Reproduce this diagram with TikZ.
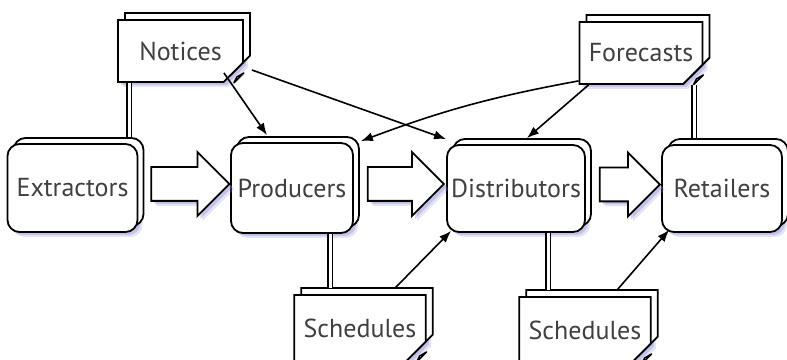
\documentclass[tikz,border=0pt]{standalone}
\usepackage{fontspec}
\setmainfont{PT Sans}
\usetikzlibrary{shapes.misc,shapes.arrows,shadows,calc,arrows.meta}

\tikzstyle{glow} = [drop shadow={shadow xshift=5pt, shadow yshift=-5pt, fill=blue!45!gray!60, opacity=0.25}, drop shadow={shadow xshift=3pt, shadow yshift=-3pt, fill=blue!50!gray!70, opacity=0.3}]
\tikzstyle{party} = [draw=black, line width=1.8pt, fill=white, rectangle, rounded corners=12pt, text=black!75, font=\fontsize{26}{26}\selectfont, glow, copy shadow={shadow xshift=6pt, shadow yshift=6pt}]
\tikzstyle{paper} = [draw=black, line width=1.8pt, fill=white, chamfered rectangle, chamfered rectangle corners=south east, chamfered rectangle sep=10pt, inner sep=0pt, text=black!75, font=\fontsize{26}{26}\selectfont, glow, copy shadow={shadow xshift=7pt, shadow yshift=7pt}]
\tikzstyle{flow} = [draw=black, line width=1.8pt, fill=white, single arrow, single arrow head extend=15pt, inner xsep=0pt, inner ysep=16pt, anchor=tail, glow]
\tikzstyle{link} = [draw=black, double=white, double distance=3pt, line width=1.5pt]
\tikzstyle{feed} = [draw=black, line width=1.6pt, -{Latex[length=12pt,width=9pt]}]

\begin{document}
\begin{tikzpicture}[x=1pt,y=1pt]
\useasboundingbox (0,0) rectangle (787,359);

\node [party, minimum width=130pt, minimum height=88pt] (extractors) at (72.5,171) {Extractors};
\node [party, minimum width=122pt, minimum height=90pt] (producers) at (292,171) {Producers};
\node [party, minimum width=138pt, minimum height=87pt] (distributors) at (516,170.5) {Distributors};
\node [party, minimum width=120pt, minimum height=87pt] (retailers) at (722,170.5) {Retailers};

\node [paper, minimum width=125pt, minimum height=62pt] (notices) at (180.5,308) {Notices};
\node [paper, minimum width=122pt, minimum height=62pt] (forecasts) at (641,306) {Forecasts};
\node [paper, minimum width=116pt, minimum height=66pt] (sched1) at (360,31) {Schedules};
\node [paper, minimum width=126pt, minimum height=66pt] (sched2) at (585,29) {Schedules};

\foreach \d in {notices,forecasts,sched1,sched2}
  \draw [line width=1.4pt, fill=white, line join=round] ($(\d.east |- \d.south)+(-10,0)$) -- ($(\d.east |- \d.south)+(0,10)$) -- ($(\d.east |- \d.south)+(-7,6)$) -- cycle;

\node [flow, minimum height=78pt] (step1) at ([xshift=12pt,yshift=4pt]extractors.east) {};
\node [flow, minimum height=76pt] (step2) at ([xshift=13pt,yshift=4pt]producers.east) {};
\node [flow, minimum height=60pt] (step3) at ([xshift=13pt,yshift=4pt]distributors.east) {};

\draw [link] ($(notices.south west)+(12,0)$) -- ($(notices.south west |- extractors.north)+(12,6)$);
\draw [link] ($(producers.south)+(38,0)$) -- ($(producers.south |- sched1.north)+(38,6)$);
\draw [link] ($(distributors.south)+(32,0)$) -- ($(distributors.south |- sched2.north)+(32,6)$);
\draw [link] ($(forecasts.south)+(53,0)$) -- ($(forecasts.south |- retailers.north)+(53,6)$);

\draw [feed] ([xshift=-10pt]notices.south east) -- ([xshift=-25pt,yshift=7pt]producers.north);
\draw [feed] ([shift={(8,-19)}]notices.east) -- ([yshift=5pt]distributors.north west);
\draw [feed] ([yshift=4pt]forecasts.south west) to[bend right=5] ([shift={(7,1)}]producers.north east);
\draw [feed] ([xshift=10pt]forecasts.south west) -- ([xshift=11pt,yshift=6pt]distributors.north);
\draw [feed] ([xshift=35pt,yshift=6pt]sched1.north) -- ([shift={(5,2)}]distributors.south west);
\draw [feed] ([xshift=32pt,yshift=6pt]sched2.north) -- ([shift={(8,3)}]retailers.south west);
\end{tikzpicture}
\end{document}
